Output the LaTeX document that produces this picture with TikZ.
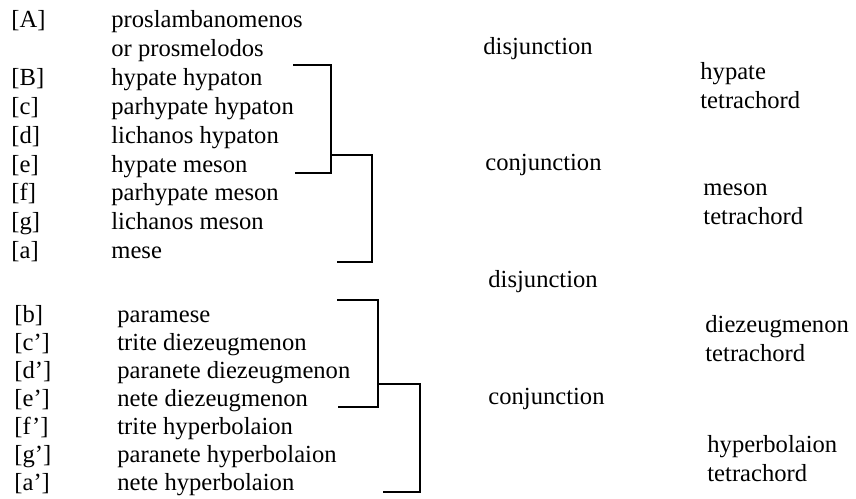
\documentclass[tikz,border=0pt]{standalone}
\usepackage{fontspec}
\setmainfont{Liberation Serif}

\begin{document}
\begin{tikzpicture}[x=0.5pt,y=-0.5pt,
    every node/.style={inner sep=0pt,anchor=mid west,align=left,
      font=\fontsize{12.3}{14.5}\selectfont},
    brk/.style={line width=1.1pt}]
            \useasboundingbox (0,0) rectangle (856,498);
            % lower and middle tetrachords
            \node (kA) at (11,23) {[A]};   \node (nA) at (111,23) {proslambanomenos};
                                           \node (nA2) at (111,52) {or prosmelodos};
            \node (kB) at (11,81) {[B]};   \node (nB) at (111,81) {hypate hypaton};
            \node (kc) at (11,110) {[c]};  \node (nc) at (111,110) {parhypate hypaton};
            \node (kd) at (11,139) {[d]};  \node (nd) at (111,139) {lichanos hypaton};
            \node (ke) at (11,168) {[e]};  \node (ne) at (111,168) {hypate meson};
            \node (kf) at (11,196) {[f]};  \node (nf) at (111,196) {parhypate meson};
            \node (kg) at (11,225) {[g]};  \node (ng) at (111,225) {lichanos meson};
            \node (ka) at (11,254) {[a]};  \node (na) at (111,254) {mese};
            % upper tetrachords
            \node (kb) at (14,318) {[b]};    \node (nb) at (117,318) {paramese};
            \node (kc2) at (14,346) {[c']};  \node (nc2) at (117,346) {trite diezeugmenon};
            \node (kd2) at (14,374) {[d']};  \node (nd2) at (117,374) {paranete diezeugmenon};
            \node (ke2) at (14,402) {[e']};  \node (ne2) at (117,402) {nete diezeugmenon};
            \node (kf2) at (14,430) {[f']};  \node (nf2) at (117,430) {trite hyperbolaion};
            \node (kg2) at (14,458) {[g']};  \node (ng2) at (117,458) {paranete hyperbolaion};
            \node (ka2) at (14,486) {[a']};  \node (na2) at (117,486) {nete hyperbolaion};
            % joins
            \node (dis1) at (483,50) {disjunction};
            \node (con1) at (485,166) {conjunction};
            \node (dis2) at (488,283) {disjunction};
            \node (con2) at (488,400) {conjunction};
            % tetrachord names (anchored on their last line)
            \node (thyp) at (700,104) {hypate\\tetrachord};
            \node (tmes) at (703,220) {meson\\tetrachord};
            \node (tdie) at (705,357) {diezeugmenon\\tetrachord};
            \node (thyb) at (707,477) {hyperbolaion\\tetrachord};
            % brackets
            \coordinate (hyp1) at (293,65);  \coordinate (hyp2) at (295,173);
            \coordinate (hypJ) at (331,155); \coordinate (mes2) at (337,262);
            \coordinate (die1) at (337,300); \coordinate (die2) at (338,407);
            \coordinate (dieJ) at (378,384); \coordinate (hyb2) at (383,492);
            \draw[brk] (hyp1) -- ++(38,0) |- (hyp2);
            \draw[brk] (hypJ) -- ++(41,0) |- (mes2);
            \draw[brk] (die1) -- ++(41,0) |- (die2);
            \draw[brk] (dieJ) -- ++(42,0) |- (hyb2);
        \end{tikzpicture}
\end{document}
